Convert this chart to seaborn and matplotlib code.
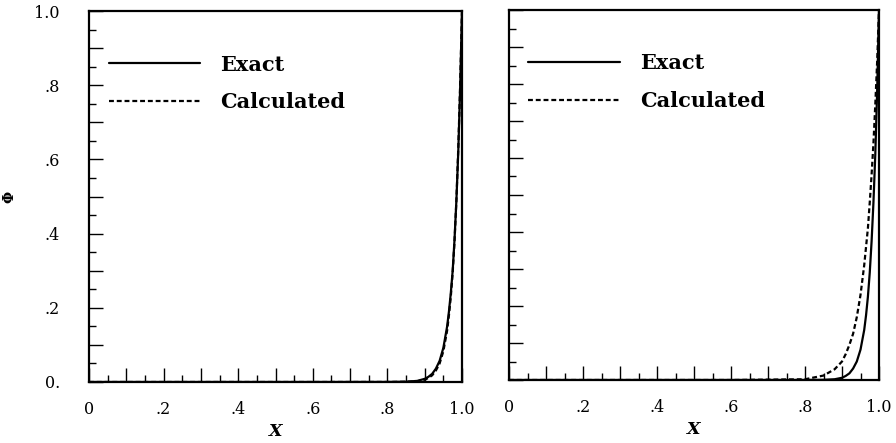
import numpy as np
import pandas as pd
import matplotlib
matplotlib.use("Agg")
import matplotlib.pyplot as plt
import seaborn as sns
from matplotlib.ticker import MultipleLocator, FuncFormatter
from matplotlib.lines import Line2D

# ---------------- data ----------------
x_pts = [0.0, 0.2, 0.4, 0.6, 0.8, 0.85, 0.88, 0.90, 0.91, 0.92, 0.93, 0.94,
         0.95, 0.96, 0.965, 0.97, 0.975, 0.98, 0.985, 0.99, 0.995, 1.0]

left_exact = [0, 0, 0, 0, 0.0001, 0.0008, 0.003, 0.0085, 0.014, 0.022, 0.036, 0.057,
              0.092, 0.149, 0.19, 0.24, 0.30, 0.385, 0.49, 0.62, 0.79, 1.0]
left_calc = [0, 0, 0, 0, 0.0001, 0.0006, 0.002, 0.006, 0.011, 0.018, 0.031, 0.050,
             0.083, 0.138, 0.18, 0.23, 0.295, 0.38, 0.49, 0.63, 0.80, 1.0]

right_exact = [0, 0, 0, 0, 0.0001, 0.0005, 0.002, 0.006, 0.011, 0.018, 0.031, 0.050,
               0.082, 0.135, 0.175, 0.225, 0.29, 0.375, 0.48, 0.61, 0.78, 1.0]
right_calc = [0, 0, 0, 0, 0.002, 0.012, 0.029, 0.050, 0.070, 0.095, 0.125, 0.170,
              0.23, 0.31, 0.36, 0.41, 0.48, 0.555, 0.64, 0.745, 0.86, 1.0]

series_names = ["Exact", "Calculated"]
x_tick_labels = ["0", ".2", ".4", ".6", ".8", "1.0"]
y_tick_labels = ["0.", ".2", ".4", ".6", ".8", "1.0"]
x_label = "X"
y_label = "\u03a6"

# ---------------- figure ----------------
sns.set_theme(style="white")
plt.rcParams["font.family"] = ["DejaVu Serif"]
plt.rcParams["text.color"] = "black"
plt.rcParams["axes.labelcolor"] = "black"

fig = plt.figure(figsize=(8.96, 4.43), dpi=100)
W, H = 896, 443
def box(l, t, r, b):
    return [l / W, 1 - b / H, (r - l) / W, (b - t) / H]

ax1 = fig.add_axes(box(89, 11, 462, 382))
ax2 = fig.add_axes(box(509, 10, 879, 380))

panels = [(ax1, left_exact, left_calc, True), (ax2, right_exact, right_calc, False)]
dash = (0, (2.2, 1.3))

for ax, ex, ca, show_y in panels:
    df = pd.DataFrame({"x": x_pts * 2, "phi": ex + ca,
                       "series": [series_names[0]] * len(x_pts) + [series_names[1]] * len(x_pts)})
    sns.lineplot(data=df[df.series == series_names[0]], x="x", y="phi", ax=ax,
                 color="black", lw=1.6, estimator=None, sort=False, legend=False)
    sns.lineplot(data=df[df.series == series_names[1]], x="x", y="phi", ax=ax,
                 color="black", lw=1.6, estimator=None, sort=False, legend=False,
                 linestyle=dash)
    ax.set_xlim(0, 1)
    ax.set_ylim(0, 1)
    for s in ax.spines.values():
        s.set_color("black")
        s.set_linewidth(1.6)
        s.set_visible(True)

    ax.xaxis.set_major_locator(MultipleLocator(0.1))
    ax.xaxis.set_minor_locator(MultipleLocator(0.05))
    ax.yaxis.set_major_locator(MultipleLocator(0.1))
    ax.yaxis.set_minor_locator(MultipleLocator(0.05))

    def xfmt(v, pos):
        i = int(round(v * 10))
        return x_tick_labels[i // 2] if i % 2 == 0 else ""
    def yfmt(v, pos):
        i = int(round(v * 10))
        return y_tick_labels[i // 2] if i % 2 == 0 else ""
    ax.xaxis.set_major_formatter(FuncFormatter(xfmt))
    ax.yaxis.set_major_formatter(FuncFormatter(yfmt))

    ax.tick_params(axis="both", which="major", direction="in", length=10, width=1.0,
                   color="black", labelsize=11.5, labelcolor="black",
                   top=False, right=False, bottom=True, left=True)
    ax.tick_params(axis="both", which="minor", direction="in", length=5, width=1.0,
                   color="black", top=False, right=False, bottom=True, left=True)
    ax.tick_params(axis="x", which="major", pad=14)
    ax.tick_params(axis="y", which="major", pad=21)
    if not show_y:
        ax.tick_params(axis="y", which="both", labelleft=False)

    ax.set_xlabel(x_label, fontsize=12.5, fontweight="bold", fontstyle="italic",
                  color="black", labelpad=3)
    if show_y:
        ax.set_ylabel(y_label, fontsize=10, fontweight="bold", color="black")
        ax.yaxis.set_label_coords(-0.195, 0.5)
    else:
        ax.set_ylabel("")

    handles = [Line2D([], [], color="black", lw=1.6),
               Line2D([], [], color="black", lw=1.6, linestyle=dash)]
    leg = ax.legend(handles, series_names, loc="upper left", bbox_to_anchor=(0.03, 0.905),
                    frameon=False, handlelength=4.4, handletextpad=0.95,
                    labelspacing=0.84, borderaxespad=0,
                    prop={"family": "DejaVu Serif", "weight": "bold", "size": 15})
    for t in leg.get_texts():
        t.set_color("black")

fig.savefig("out.png", dpi=100, facecolor="white")
